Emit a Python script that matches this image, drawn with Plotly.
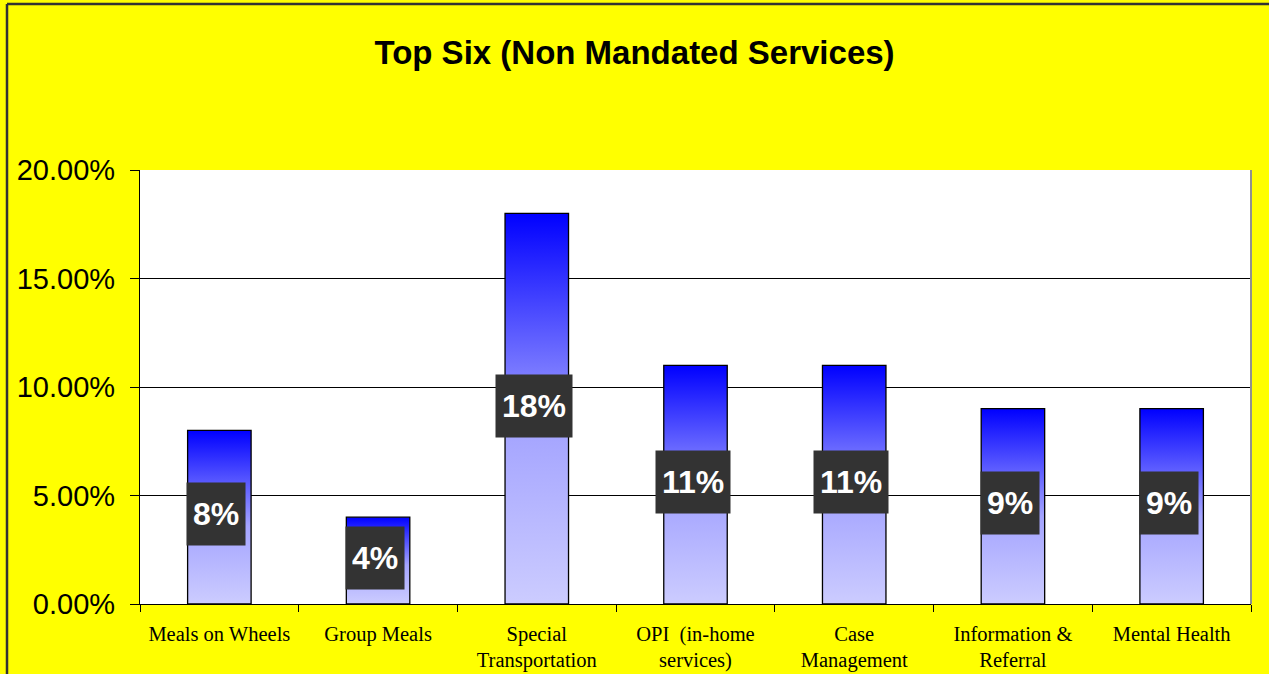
import plotly.graph_objects as go

# dados do gráfico
categorias = ["Meals on Wheels", "Group Meals", "Special<br>Transportation",
              "OPI  (in-home<br>services)", "Case<br>Management",
              "Information &<br>Referral", "Mental Health"]
valores = [0.08, 0.04, 0.18, 0.11, 0.11, 0.09, 0.09]
rotulos = ["8%", "4%", "18%", "11%", "11%", "9%", "9%"]
yticks = [0.0, 0.05, 0.10, 0.15, 0.20]

W, H = 1269, 674
ML, MR, MT, MB = 140, 18, 170, 70
meia_larg = 0.2

fig = go.Figure()

# barras com degradê (preenchimento vertical)
escala = [[0, "#ccccff"], [0.45, "#a4a4ff"], [1, "#0000ff"]]
for i, v in enumerate(valores):
    fig.add_trace(go.Scatter(
        x=[i - meia_larg, i - meia_larg, i + meia_larg, i + meia_larg, i - meia_larg],
        y=[0, v, v, 0, 0],
        mode="lines",
        fill="toself",
        fillgradient=dict(type="vertical", colorscale=escala),
        line=dict(color="#000000", width=1.3),
        hoverinfo="skip",
        showlegend=False,
    ))

# rótulos de dados em caixas escuras
for i, (v, r) in enumerate(zip(valores, rotulos)):
    fig.add_annotation(
        x=i, y=v / 2, text="<b>" + r + "</b>", showarrow=False,
        font=dict(family="Arial, Liberation Sans", size=32, color="white"),
        bgcolor="#333333", borderpad=6, height=50,
        xshift=-3, yshift=3,
    )

# bordas: direita do gráfico (cinza) e moldura externa
fig.add_shape(type="line", xref="paper", yref="paper", x0=1, x1=1, y0=0, y1=1,
              line=dict(color="#909090", width=2))
px0 = (7 - ML) / (W - ML - MR)
py0 = (H - MB - 4) / (H - MT - MB)
fig.add_shape(type="line", xref="paper", yref="paper", x0=px0, x1=px0, y0=-0.5, y1=py0,
              line=dict(color="#333333", width=2.5))
fig.add_shape(type="line", xref="paper", yref="paper", x0=px0, x1=1.1, y0=py0, y1=py0,
              line=dict(color="#333333", width=2.5))

fig.update_layout(
    width=W, height=H,
    margin=dict(l=ML, r=MR, t=MT, b=MB, autoexpand=False),
    paper_bgcolor="#ffff00",
    plot_bgcolor="#ffffff",
    title=dict(text="<b>Top Six (Non Mandated Services)</b>", x=0.5, xanchor="center",
               y=1 - 52 / H, yanchor="middle", yref="container",
               font=dict(family="Arial, Liberation Sans", size=33, color="black")),
    xaxis=dict(
        range=[-0.5, len(categorias) - 0.5], automargin=False,
        tickmode="array", tickvals=list(range(len(categorias))), ticktext=categorias,
        ticks="", showgrid=False, zeroline=False,
        showline=True, linecolor="#000000", linewidth=1.3,
        tickfont=dict(family="Times New Roman, Liberation Serif", size=20.5, color="black"),
        ticklabelstandoff=11,
        minor=dict(tickmode="linear", tick0=-0.5, dtick=1, ticks="outside",
                   ticklen=7, tickcolor="#000000", tickwidth=1.3, showgrid=False),
    ),
    yaxis=dict(
        range=[0, 0.2], automargin=False,
        tickmode="array", tickvals=yticks, tickformat=".2%",
        ticks="outside", ticklen=9, tickcolor="#000000", tickwidth=1.3,
        showgrid=True, gridcolor="#000000", gridwidth=1,
        zeroline=False, showline=True, linecolor="#000000", linewidth=1.3,
        tickfont=dict(family="Arial, Liberation Sans", size=29, color="black"),
        ticklabelstandoff=9,
    ),
)

fig.write_html("out.html", config={"displayModeBar": False},
               post_script="document.body.style.margin='0';")
